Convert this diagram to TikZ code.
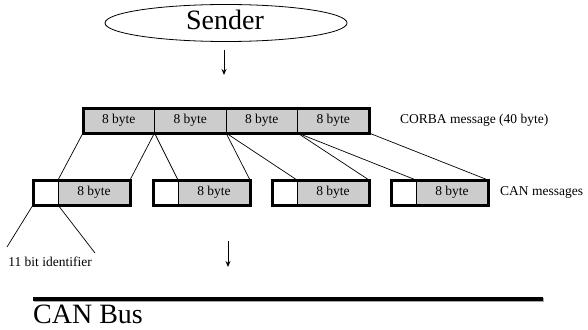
\documentclass[tikz,border=0pt]{standalone}
\usepackage{fontspec}
\setmainfont{Liberation Serif}
\usetikzlibrary{arrows.meta,shapes.geometric,calc}
\definecolor{segfill}{HTML}{CCCCCC}
\tikzset{
  seg/.style={draw, line width=0.8pt, fill=segfill, minimum height=25pt, inner sep=0pt, outer sep=0pt, font=\fontsize{13.5}{15}\selectfont},
  idbox/.style={draw, line width=0.8pt, fill=white, minimum width=25pt, minimum height=25pt, inner sep=0pt, outer sep=0pt},
  frame/.style={draw, line width=3pt},
  link/.style={draw, line width=0.7pt},
  flow/.style={draw, line width=1pt, -{Stealth[length=6pt,width=5pt]}},
  small/.style={font=\fontsize{13.5}{15}\selectfont, inner sep=0pt},
  big/.style={font=\fontsize{28}{30}\selectfont, inner sep=0pt}
}
\begin{document}
\begin{tikzpicture}[x=1pt,y=-1pt]
\useasboundingbox (0,0) rectangle (588,329);
% Sender
\node[draw, ellipse, line width=0.8pt, minimum width=242pt, minimum height=37pt, inner sep=0pt] (sender) at (226,23) {};
\node[big, anchor=base] (sendertext) at (225,30) {Sender};
\coordinate (a1s) at (224,50);
\coordinate (a1e) at (224,75);
\draw[flow] (a1s) -- (a1e);
% CORBA message
\node[seg, minimum width=71.5pt] (c1) at (118.75,120.5) {8 byte};
\node[seg, minimum width=71.5pt] (c2) at (190.25,120.5) {8 byte};
\node[seg, minimum width=71.5pt] (c3) at (261.75,120.5) {8 byte};
\node[seg, minimum width=71.5pt] (c4) at (333.25,120.5) {8 byte};
\draw[frame] (c1.north west) rectangle (c4.south east);
\node[small, anchor=west] (corbalabel) at (400,120) {CORBA message (40 byte)};
% CAN messages
\foreach \i/\x in {1/33,2/153,3/272,4/391}{
  \node[idbox] (i\i) at (\x+12.5,192.5) {};
  \node[seg, minimum width=72pt] (d\i) at (\x+61,192.5) {8 byte};
  \draw[frame] (i\i.north west) rectangle (d\i.south east);
}
\node[small, anchor=west] (canlabel) at (500,192.5) {CAN messages};
% links
\foreach \i in {1,2,3,4}{
  \draw[link] (c\i.south west) -- (d\i.north west);
  \draw[link] (c\i.south east) -- (d\i.north east);
}
% identifier
\coordinate (idl) at (7,247);
\coordinate (idr) at (95,253);
\draw[link] (i1.south west) -- (idl);
\draw[link] (i1.south east) -- (idr);
\node[small, anchor=center] (idlabel) at (50,261.5) {11 bit identifier};
% arrow 2
\coordinate (a2s) at (228,241);
\coordinate (a2e) at (228,267);
\draw[flow] (a2s) -- (a2e);
% CAN bus
\coordinate (bus1) at (33,299);
\coordinate (bus2) at (543,299);
\draw[line width=4pt, gray!70] ($(bus1)+(1,1)$) -- ($(bus2)+(1,1)$);
\draw[line width=4pt] (bus1) -- (bus2);
\node[big, anchor=base west] (buslabel) at (33,323) {CAN Bus};
\end{tikzpicture}
\end{document}
